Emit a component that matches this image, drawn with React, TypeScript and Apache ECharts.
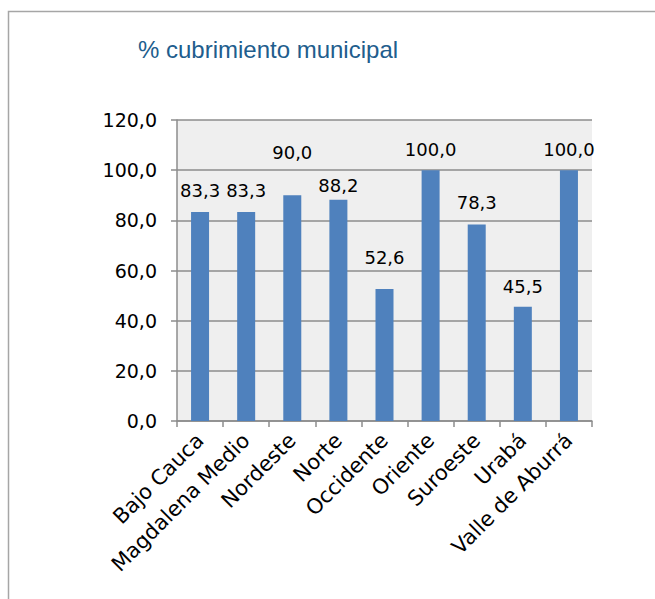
import React, { useEffect, useRef } from "react";
import * as echarts from "echarts";

const categories = [
  "Bajo Cauca",
  "Magdalena Medio",
  "Nordeste",
  "Norte",
  "Occidente",
  "Oriente",
  "Suroeste",
  "Urabá",
  "Valle de Aburrá",
];
const values = [83.3, 83.3, 90.0, 88.2, 52.6, 100.0, 78.3, 45.5, 100.0];
// vertical nudges of the data labels as placed in the reference (px)
const labelNudge = [-13, -13, -34, -5, -23, -12, -13, -11, -12];

const yMin = 0;
const yMax = 120;
const yStep = 20;

const fmt = (v: number) => v.toFixed(1).replace(".", ",");

export default function App() {
  const ref = useRef<HTMLDivElement>(null);
  useEffect(() => {
    if (!ref.current) return;
    const chart = echarts.init(ref.current, null, { renderer: "svg" });
    const font = "DejaVu Sans";
    chart.setOption({
      animation: false,
      backgroundColor: "#ffffff",
      graphic: [
        {
          type: "rect",
          shape: { x: 8.5, y: 11.5, width: 700, height: 700 },
          style: { fill: "none", stroke: "#a6a6a6", lineWidth: 1.5 },
          silent: true,
        },
        {
          type: "text",
          x: 268,
          y: 49,
          style: {
            text: "% cubrimiento municipal",
            fill: "#215d8d",
            font: "24px 'Liberation Sans'",
            textAlign: "center",
            textVerticalAlign: "middle",
          },
        },
      ],
      grid: {
        left: 177,
        top: 120,
        width: 415,
        height: 301,
        show: true,
        backgroundColor: "#efefef",
        borderWidth: 0,
      },
      xAxis: {
        type: "category",
        data: categories,
        axisLine: { show: true, lineStyle: { color: "#8c8c8c", width: 1.5 } },
        axisTick: { show: true, length: 6, lineStyle: { color: "#8c8c8c", width: 1.5 } },
        axisLabel: {
          rotate: 45,
          interval: 0,
          margin: 16,
          color: "#000000",
          fontFamily: font,
          fontSize: 21,
        },
      },
      yAxis: {
        type: "value",
        min: yMin,
        max: yMax,
        interval: yStep,
        axisLine: { show: true, lineStyle: { color: "#8c8c8c", width: 1.5 } },
        axisTick: { show: true, length: 6, lineStyle: { color: "#8c8c8c", width: 1.5 } },
        splitLine: { show: true, lineStyle: { color: "#8c8c8c", width: 1.5 } },
        axisLabel: {
          formatter: (v: number) => fmt(v),
          color: "#000000",
          fontFamily: font,
          fontSize: 19,
          margin: 20,
        },
      },
      series: [
        {
          type: "bar",
          data: values.map((v, i) => ({
            value: v,
            label: { offset: [0, labelNudge[i]] },
          })),
          barWidth: 18,
          itemStyle: { color: "#4f81bd" },
          label: {
            show: true,
            position: "top",
            distance: 0,
            formatter: (p: any) => fmt(p.value),
            color: "#000000",
            fontFamily: font,
            fontSize: 18,
          },
        },
      ],
    });
    return () => chart.dispose();
  }, []);
  return (
    <div
      ref={ref}
      style={{ position: "fixed", left: 0, top: 0, width: 655, height: 599 }}
    />
  );
}
